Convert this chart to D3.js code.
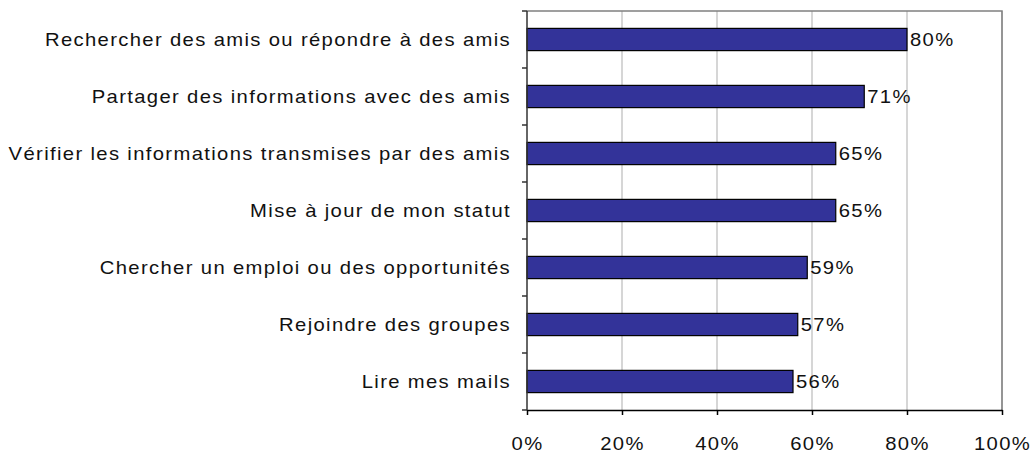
<!DOCTYPE html>
<html lang="fr">
<head>
<meta charset="UTF-8">
<title>Activités</title>
<style>
  body { margin: 0; background: #fff; }
  svg { display: block; font-family: "Liberation Sans", Arial, sans-serif; }
</style>
</head>
<body>
<script src="https://cdn.jsdelivr.net/npm/d3@7"></script>
<script>
// data
const categories = [
  "Rechercher des amis ou répondre à des amis",
  "Partager des informations avec des amis",
  "Vérifier les informations transmises par des amis",
  "Mise à jour de mon statut",
  "Chercher un emploi ou des opportunités",
  "Rejoindre des groupes",
  "Lire mes mails"
];
const values = [80, 71, 65, 65, 59, 57, 56];
const xTicks = [0, 20, 40, 60, 80, 100];

const width = 1035, height = 453;
const margin = {top: 11, right: 33, bottom: 43, left: 527};
const fontSize = 18, spacing = 1.2, stretch = 1.125;

const x = d3.scaleLinear()
  .domain([0, 100])
  .range([margin.left, width - margin.right]);

const y = d3.scaleBand()
  .domain(categories)
  .range([margin.top, height - margin.bottom])
  .paddingInner(0.61)
  .paddingOuter(0.305);

const svg = d3.select("body").append("svg")
  .attr("width", width)
  .attr("height", height);

// gridlines
svg.append("g")
  .selectAll("line")
  .data(xTicks.slice(1))
  .join("line")
  .attr("x1", d => x(d)).attr("x2", d => x(d))
  .attr("y1", margin.top).attr("y2", height - margin.bottom)
  .attr("stroke", "#c8c8c8")
  .attr("stroke-width", 1.5);

// plot border top/right
svg.append("path")
  .attr("d", `M${x(0)},${margin.top}H${x(100)}V${height - margin.bottom}`)
  .attr("fill", "none")
  .attr("stroke", "#808080")
  .attr("stroke-width", 1.5);

// bars
svg.append("g")
  .selectAll("rect")
  .data(values)
  .join("rect")
  .attr("x", x(0))
  .attr("y", (d, i) => y(categories[i]))
  .attr("width", d => x(d) - x(0))
  .attr("height", y.bandwidth())
  .attr("fill", "#333399")
  .attr("stroke", "#000")
  .attr("stroke-width", 1.2);

// the original text is a wide, horizontally stretched Arial
const styleText = t => t
  .attr("font-size", fontSize)
  .attr("letter-spacing", spacing)
  .attr("fill", "#111");

// value labels
svg.append("g")
  .selectAll("text")
  .data(values)
  .join("text")
  .attr("transform", (d, i) => `translate(${x(d) + 3},${y(categories[i]) + y.bandwidth() / 2}) scale(${stretch},1)`)
  .attr("dy", "0.35em")
  .call(styleText)
  .text(d => d + "%");

// category labels
svg.append("g")
  .selectAll("text")
  .data(categories)
  .join("text")
  .attr("transform", d => `translate(${x(0) - 16},${y(d) + y.bandwidth() / 2}) scale(${stretch},1)`)
  .attr("dy", "0.35em")
  .attr("text-anchor", "end")
  .call(styleText)
  .text(d => d);

// left axis with ticks between categories
const bounds = d3.range(categories.length + 1).map(i => margin.top + i * (height - margin.top - margin.bottom) / categories.length);
const left = svg.append("g");
left.append("line")
  .attr("x1", x(0)).attr("x2", x(0))
  .attr("y1", margin.top).attr("y2", height - margin.bottom)
  .attr("stroke", "#333").attr("stroke-width", 1.5);
left.selectAll(".tk")
  .data(bounds)
  .join("line")
  .attr("x1", x(0) - 5).attr("x2", x(0))
  .attr("y1", d => d).attr("y2", d => d)
  .attr("stroke", "#333").attr("stroke-width", 1.5);

// bottom axis
const xAxis = svg.append("g")
  .attr("transform", `translate(0,${height - margin.bottom})`)
  .call(d3.axisBottom(x).tickValues(xTicks).tickFormat(d => d + "%").tickSize(5).tickSizeOuter(0).tickPadding(20));
xAxis.select(".domain").attr("stroke", "#000").attr("stroke-width", 1.5);
xAxis.selectAll(".tick line").attr("stroke", "#000").attr("stroke-width", 1.5);
xAxis.selectAll(".tick text")
  .attr("y", null).attr("dy", null)
  .attr("transform", `translate(0,27) scale(${stretch},1)`)
  .attr("dy", "0.71em")
  .attr("font-family", "Liberation Sans, Arial, sans-serif")
  .call(styleText);
</script>
</body>
</html>
